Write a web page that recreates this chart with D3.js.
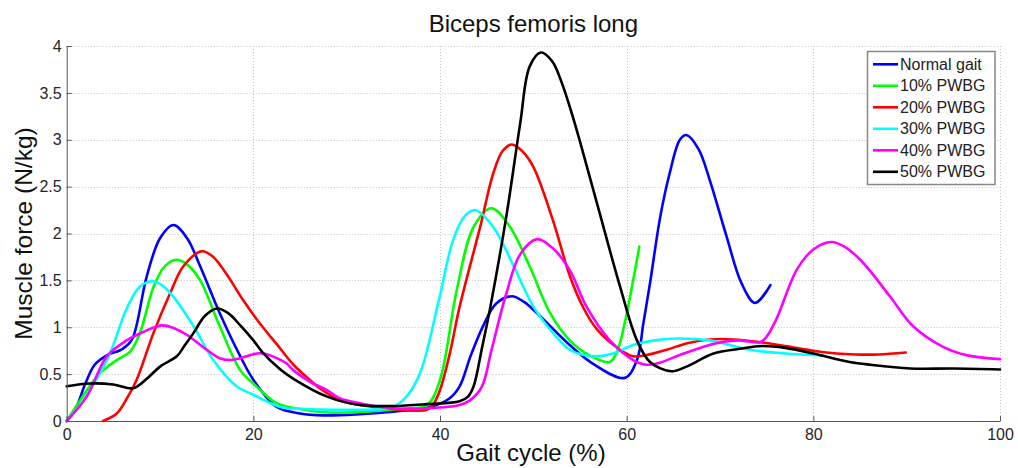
<!DOCTYPE html>
<html>
<head>
<meta charset="utf-8">
<script src="https://cdn.jsdelivr.net/npm/d3@7"></script>
<style>
  html, body { margin: 0; padding: 0; background: #fff; }
  svg { display: block; font-family: "Liberation Sans", Arial, sans-serif; }
</style>
</head>
<body>
<svg id="chart" width="1018" height="468"></svg>
<script>
// ---- data ----
const chartTitle = "Biceps femoris long";
const xLabel = "Gait cycle (%)";
const yLabel = "Muscle force (N/kg)";
const xTicks = [0, 20, 40, 60, 80, 100];
const yTicks = [0, 0.5, 1, 1.5, 2, 2.5, 3, 3.5, 4];
const seriesNames = ["Normal gait", "10% PWBG", "20% PWBG", "30% PWBG", "40% PWBG", "50% PWBG"];
const seriesColors = ["#0000ff", "#00ff00", "#ff0000", "#00ffff", "#ff00ff", "#000000"];

const normalX = [0, 1, 2, 3, 4.3, 6.0, 7.0, 8.57, 10, 11.43, 12.9, 14.3, 16.4, 18.6, 20, 22.5, 25, 27.5, 31, 35, 39, 41, 42.1, 43.3, 44.6, 46, 47.7, 49, 50.4, 53.9, 56.4, 59.8, 61.1, 61.8, 62.5, 63.6, 64.6, 65.7, 66.4, 67.7, 68.9, 70.7, 72.3, 73.75, 75.4];
const normalY = [0, 0.14, 0.40, 0.60, 0.70, 0.77, 0.87, 1.54, 1.95, 2.09, 1.95, 1.65, 1.15, 0.69, 0.44, 0.15, 0.08, 0.06, 0.07, 0.10, 0.15, 0.24, 0.37, 0.70, 1.01, 1.25, 1.33, 1.27, 1.15, 0.81, 0.61, 0.46, 0.65, 1.05, 1.47, 2.18, 2.64, 3.00, 3.05, 2.90, 2.57, 1.97, 1.47, 1.26, 1.45];

const pw10X = [0, 1.43, 3.57, 5.36, 6.8, 7.85, 9.3, 10.5, 11.8, 13, 14.3, 16.4, 18.6, 20, 22.5, 25.4, 28, 32, 36, 38.6, 40, 41.8, 43.6, 45.5, 47.5, 49.6, 51.8, 53.9, 56, 58.2, 59, 59.8, 60.6, 61.35];
const pw10Y = [0, 0.22, 0.51, 0.65, 0.74, 0.94, 1.43, 1.65, 1.72, 1.66, 1.50, 1.01, 0.54, 0.40, 0.19, 0.12, 0.09, 0.10, 0.13, 0.17, 0.44, 1.40, 2.07, 2.27, 2.07, 1.65, 1.15, 0.86, 0.70, 0.63, 0.75, 1.05, 1.45, 1.86];

const pw20X = [3.9, 5.36, 6.5, 7.5, 9.3, 11.07, 12.5, 14.46, 15.7, 17.1, 18.9, 20.7, 22.5, 24.3, 25.7, 27.1, 29.3, 31.4, 35.7, 38.6, 39.3, 40, 41, 42.1, 44.3, 45.7, 46.7, 47.7, 48.8, 50, 52.1, 53.9, 55.4, 56.8, 59.3, 60.7, 62, 64.3, 66.5, 68.9, 71.5, 74.3, 77, 80, 82.5, 84.5, 87, 89.9];
const pw20Y = [0, 0.08, 0.25, 0.44, 0.94, 1.36, 1.65, 1.81, 1.75, 1.57, 1.29, 1.04, 0.82, 0.60, 0.47, 0.35, 0.22, 0.17, 0.12, 0.12, 0.18, 0.33, 0.70, 1.22, 2.07, 2.64, 2.88, 2.95, 2.88, 2.71, 2.14, 1.55, 1.20, 0.98, 0.76, 0.69, 0.70, 0.76, 0.83, 0.87, 0.87, 0.84, 0.80, 0.75, 0.72, 0.71, 0.71, 0.73];

const pw30X = [0, 1.8, 3.5, 4.64, 6.43, 7.8, 9.1, 10.2, 11.4, 13.6, 15.7, 18.2, 20, 22.9, 25, 30, 35, 36.4, 37.9, 39.9, 41.4, 42.6, 43.75, 45.7, 47.9, 50, 52.1, 53.9, 55.2, 56.8, 58.5, 60.7, 63, 65.4, 68.9, 73.2, 77.1, 81];
const pw30Y = [0, 0.22, 0.50, 0.72, 1.20, 1.43, 1.49, 1.45, 1.33, 1.01, 0.65, 0.37, 0.28, 0.15, 0.13, 0.12, 0.15, 0.26, 0.52, 1.30, 1.93, 2.18, 2.25, 2.07, 1.65, 1.22, 0.94, 0.76, 0.71, 0.69, 0.72, 0.81, 0.86, 0.88, 0.86, 0.76, 0.72, 0.70];

const pw40X = [0, 2.14, 4.3, 6.43, 8.2, 10.2, 11.5, 12.86, 15, 16.4, 17.5, 18.6, 20.4, 21.1, 22.5, 23.6, 24.3, 26.4, 27.9, 29.3, 31.4, 35, 38.6, 42.1, 43.2, 44.5, 45.5, 47.1, 48.6, 50.4, 52, 53.9, 55.7, 58.2, 60.7, 62.1, 63.5, 66.1, 69.6, 72, 74.3, 75, 76.1, 78.2, 80, 81.9, 83.5, 85.4, 88.2, 90.7, 93.9, 96.5, 100];
const pw40Y = [0, 0.26, 0.69, 0.86, 0.95, 1.02, 0.99, 0.92, 0.76, 0.67, 0.65, 0.67, 0.72, 0.72, 0.67, 0.61, 0.54, 0.40, 0.33, 0.24, 0.19, 0.135, 0.135, 0.17, 0.22, 0.37, 0.75, 1.36, 1.78, 1.94, 1.85, 1.61, 1.22, 0.86, 0.65, 0.60, 0.62, 0.72, 0.83, 0.86, 0.84, 0.90, 1.10, 1.61, 1.83, 1.91, 1.85, 1.68, 1.33, 1.01, 0.79, 0.70, 0.66];

const pw50X = [0, 2.5, 5, 7.14, 8.57, 10, 11.8, 12.6, 13.6, 14.8, 16.1, 17.3, 18.6, 20, 21, 22.9, 24.3, 27.9, 31.4, 35, 38.6, 42.1, 43, 43.6, 44.5, 45.4, 47.1, 48.6, 49.6, 50.8, 52, 53, 54, 55, 57.1, 59.3, 61.1, 62.5, 64.8, 66.4, 69.3, 72.1, 74.5, 77, 80, 83.9, 86.1, 90.4, 95, 100];
const pw50Y = [0.37, 0.40, 0.39, 0.35, 0.45, 0.58, 0.69, 0.80, 0.94, 1.12, 1.20, 1.15, 1.02, 0.86, 0.73, 0.55, 0.45, 0.26, 0.17, 0.16, 0.18, 0.21, 0.26, 0.37, 0.78, 1.22, 2.18, 3.18, 3.78, 3.93, 3.84, 3.62, 3.32, 2.98, 2.22, 1.43, 0.86, 0.63, 0.53, 0.58, 0.72, 0.77, 0.80, 0.78, 0.72, 0.63, 0.60, 0.56, 0.56, 0.55];

const seriesXs = [normalX, pw10X, pw20X, pw30X, pw40X, pw50X];
const seriesYs = [normalY, pw10Y, pw20Y, pw30Y, pw40Y, pw50Y];

// ---- layout ----
const plot = { left: 66.7, right: 1000, top: 46, bottom: 421 };

const svg = d3.select("#chart");
const x = d3.scaleLinear().domain([0, 100]).range([plot.left, plot.right]);
const y = d3.scaleLinear().domain([0, 4]).range([plot.bottom, plot.top]);

// grid (dotted)
const grid = svg.append("g").attr("stroke", "#c4c4c4").attr("stroke-width", 1).attr("stroke-dasharray", "1,2");
grid.selectAll("line.gx").data(xTicks.filter(d => d > 0)).join("line")
  .attr("x1", d => Math.round(x(d)) + 0.5).attr("x2", d => Math.round(x(d)) + 0.5)
  .attr("y1", plot.top).attr("y2", plot.bottom);
grid.selectAll("line.gy").data(yTicks.filter(d => d > 0)).join("line")
  .attr("x1", plot.left).attr("x2", plot.right)
  .attr("y1", d => Math.round(y(d)) + 0.5).attr("y2", d => Math.round(y(d)) + 0.5);

// curves
const line = d3.line().curve(d3.curveCatmullRom.alpha(0.5)).x(d => x(d[0])).y(d => y(d[1]));
const curves = svg.append("g").attr("fill", "none").attr("stroke-width", 2.6)
  .attr("stroke-linejoin", "round").attr("stroke-linecap", "round");
seriesNames.forEach((name, i) => {
  const pts = seriesXs[i].map((v, j) => [v, seriesYs[i][j]]);
  curves.append("path").datum(pts).attr("stroke", seriesColors[i]).attr("d", line);
});

// axes
const axisColor = "#555";
const xAxis = svg.append("g").attr("transform", `translate(0,${plot.bottom})`)
  .call(d3.axisBottom(x).tickValues(xTicks).tickFormat(d => String(d))
    .tickSizeInner(-5).tickSizeOuter(0).tickPadding(8));
const yAxis = svg.append("g").attr("transform", `translate(${plot.left},0)`)
  .call(d3.axisLeft(y).tickValues(yTicks).tickFormat(d => String(d))
    .tickSizeInner(-5).tickSizeOuter(0).tickPadding(5));
[xAxis, yAxis].forEach(a => {
  a.selectAll("path.domain").attr("stroke", axisColor);
  a.selectAll(".tick line").attr("stroke", axisColor);
  a.selectAll(".tick text").attr("fill", "#262626").style("font-size", "16px")
    .style("font-family", "'Liberation Sans', Arial, sans-serif");
});

// title and labels
svg.append("text").attr("x", (plot.left + plot.right) / 2).attr("y", 32)
  .attr("text-anchor", "middle").attr("fill", "#111").style("font-size", "24px").text(chartTitle);
svg.append("text").attr("x", 531).attr("y", 461)
  .attr("text-anchor", "middle").attr("fill", "#111").style("font-size", "24px").text(xLabel);
svg.append("text").attr("transform", `translate(32,${(plot.top + plot.bottom) / 2}) rotate(-90)`)
  .attr("text-anchor", "middle").attr("fill", "#111").style("font-size", "24.5px").text(yLabel);

// legend
const lg = svg.append("g");
lg.append("rect").attr("x", 867.5).attr("y", 51.5).attr("width", 127.5).attr("height", 133)
  .attr("fill", "#fff").attr("stroke", "#888").attr("stroke-width", 1.5);
seriesNames.forEach((name, i) => {
  const cy = 64.3 + i * 21.5;
  lg.append("line").attr("x1", 873).attr("x2", 898).attr("y1", cy).attr("y2", cy)
    .attr("stroke", seriesColors[i]).attr("stroke-width", 2.6);
  lg.append("text").attr("x", 900).attr("y", cy).attr("dy", "0.35em")
    .attr("fill", "#222").style("font-size", "16px").text(name);
});
</script>
</body>
</html>
